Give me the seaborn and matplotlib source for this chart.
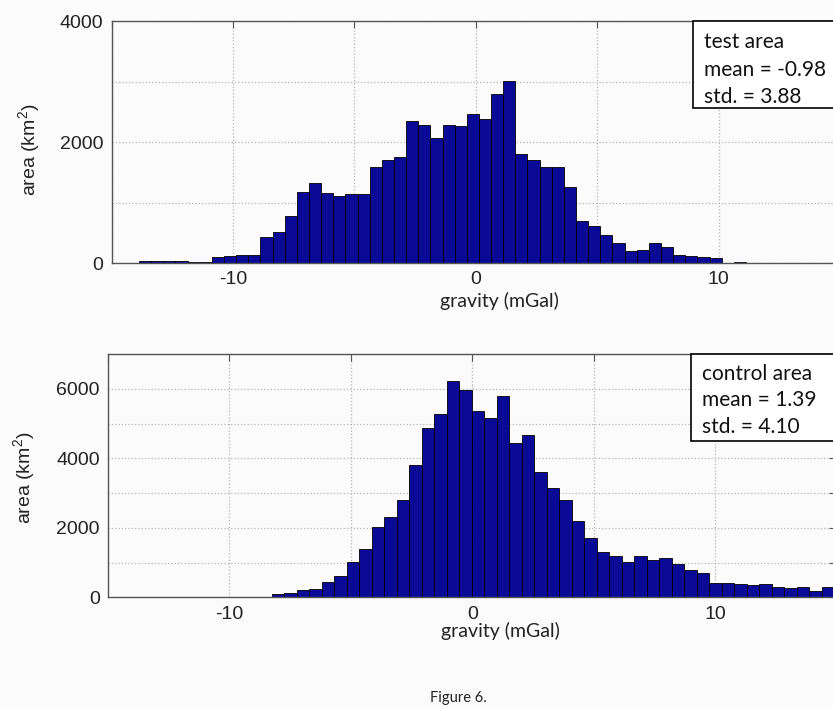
import numpy as np
import matplotlib.pyplot as plt
import seaborn as sns
from matplotlib.patches import Rectangle

# Histogramas de gravedad (área de prueba / área de control)
# conteos, barras de izquierda a derecha
test_left_edge = -13.87
test_bin_width = 0.5
test_counts = [38, 38, 38, 38, 15, 15, 95, 110, 140, 130,
               435, 510, 780, 1180, 1315, 1165, 1115, 1145, 1145, 1585,
               1710, 1755, 2350, 2290, 2070, 2290, 2260, 2465, 2377, 2790,
               3010, 1800, 1705, 1595, 1595, 1250, 700, 605, 468, 330,
               205, 220, 330, 265, 130, 110, 100, 83, 0, 22]
test_lines = ["test area", "mean = -0.98", "std. = 3.88"]

control_left_edge = -8.26
control_bin_width = 0.515
control_counts = [87, 135, 212, 250, 434, 627, 1013, 1400, 2025, 2305,
                  2797, 3800, 4880, 5276, 6230, 5960, 5373, 5150, 5787, 4427,
                  4660, 3608, 3154, 2797, 2190, 1698, 1312, 1177, 1003, 1177,
                  1061, 1128, 965, 791, 714, 424, 405, 386, 357, 386,
                  289, 260, 289, 193, 289]
control_lines = ["control area", "mean = 1.39", "std. = 4.10"]

x_ticks = [-15, -10, -5, 0, 5, 10, 15]
x_labels = ["", "-10", "", "0", "", "10", ""]

bg = "#fbfbfb"
blue = "#0a0a96"
spine = "#555555"

sns.set_style("white")
plt.rcParams['font.family'] = ['Liberation Sans', 'DejaVu Sans']
plt.rcParams['mathtext.fontset'] = 'custom'
plt.rcParams['mathtext.rm'] = 'Liberation Sans'

fig = plt.figure(figsize=(8.33, 7.09), dpi=100, facecolor=bg)
ax1 = fig.add_axes([0.1339, 0.629, 0.8745, 0.3413])
ax2 = fig.add_axes([0.1297, 0.1575, 0.8745, 0.3432])


def dibujar(ax, left, width, counts, xlim, ymax, ystep, lines, box, text_y):
    n = len(counts)
    centers = left + width * (np.arange(n) + 0.5)
    sns.histplot(x=centers, weights=counts, binwidth=width,
                 binrange=(left, left + width * n), ax=ax, color=blue,
                 edgecolor="black", linewidth=0.6, alpha=1)
    ax.set_facecolor(bg)
    ax.set_xlim(*xlim)
    ax.set_ylim(0, ymax)
    ax.set_xticks(x_ticks)
    ax.set_xticklabels(x_labels)
    yt = np.arange(0, ymax + 1, ystep)
    ax.set_yticks(yt)
    ax.set_yticklabels([str(int(v)) if v % (2 * ystep) == 0 else "" for v in yt])
    ax.set_axisbelow(True)
    ax.grid(True, linestyle=":", color="#b5b5b5", linewidth=0.9)
    ax.tick_params(direction="in", length=5, top=True, right=True, color=spine,
                   labelsize=14, pad=6, labelcolor="#222222")
    for s in ax.spines.values():
        s.set_color(spine)
        s.set_linewidth(1.0)
    ax.set_xlabel("gravity (mGal)", fontfamily="Lato", fontsize=14, color="#222222")
    ax.set_ylabel("area (km$^2$)", fontsize=14, color="#222222")
    # cuadro de estadísticas
    ax.add_patch(Rectangle((box[0], box[1]), 10, ymax - box[1], facecolor="white",
                           edgecolor="black", linewidth=1.2, clip_on=False, zorder=5))
    for txt, ty in zip(lines, text_y):
        ax.text(box[0] + 0.45, ty, txt, fontfamily="Lato", fontsize=15,
                va="center", ha="left", color="#111111", zorder=6, clip_on=False)


dibujar(ax1, test_left_edge, test_bin_width, test_counts, (-14.85, 15), 4000, 1000,
        test_lines, (8.96, 2560), [3653, 3190, 2744])
ax1.xaxis.set_label_coords(0.533, -0.12)
ax1.yaxis.set_label_coords(-0.094, 0.467)

dibujar(ax2, control_left_edge, control_bin_width, control_counts, (-15, 15), 7000, 1000,
        control_lines, (9.01, 4504), [6434, 5682, 4900])
ax2.xaxis.set_label_coords(0.538, -0.10)
ax2.yaxis.set_label_coords(-0.096, 0.49)

fig.text(458 / 833, 1 - 698 / 709, "Figure 6.", ha="center", va="center",
         fontsize=10.5, fontfamily="Lato", color="#222222")

fig.savefig("out.png", dpi=100, facecolor=bg)
